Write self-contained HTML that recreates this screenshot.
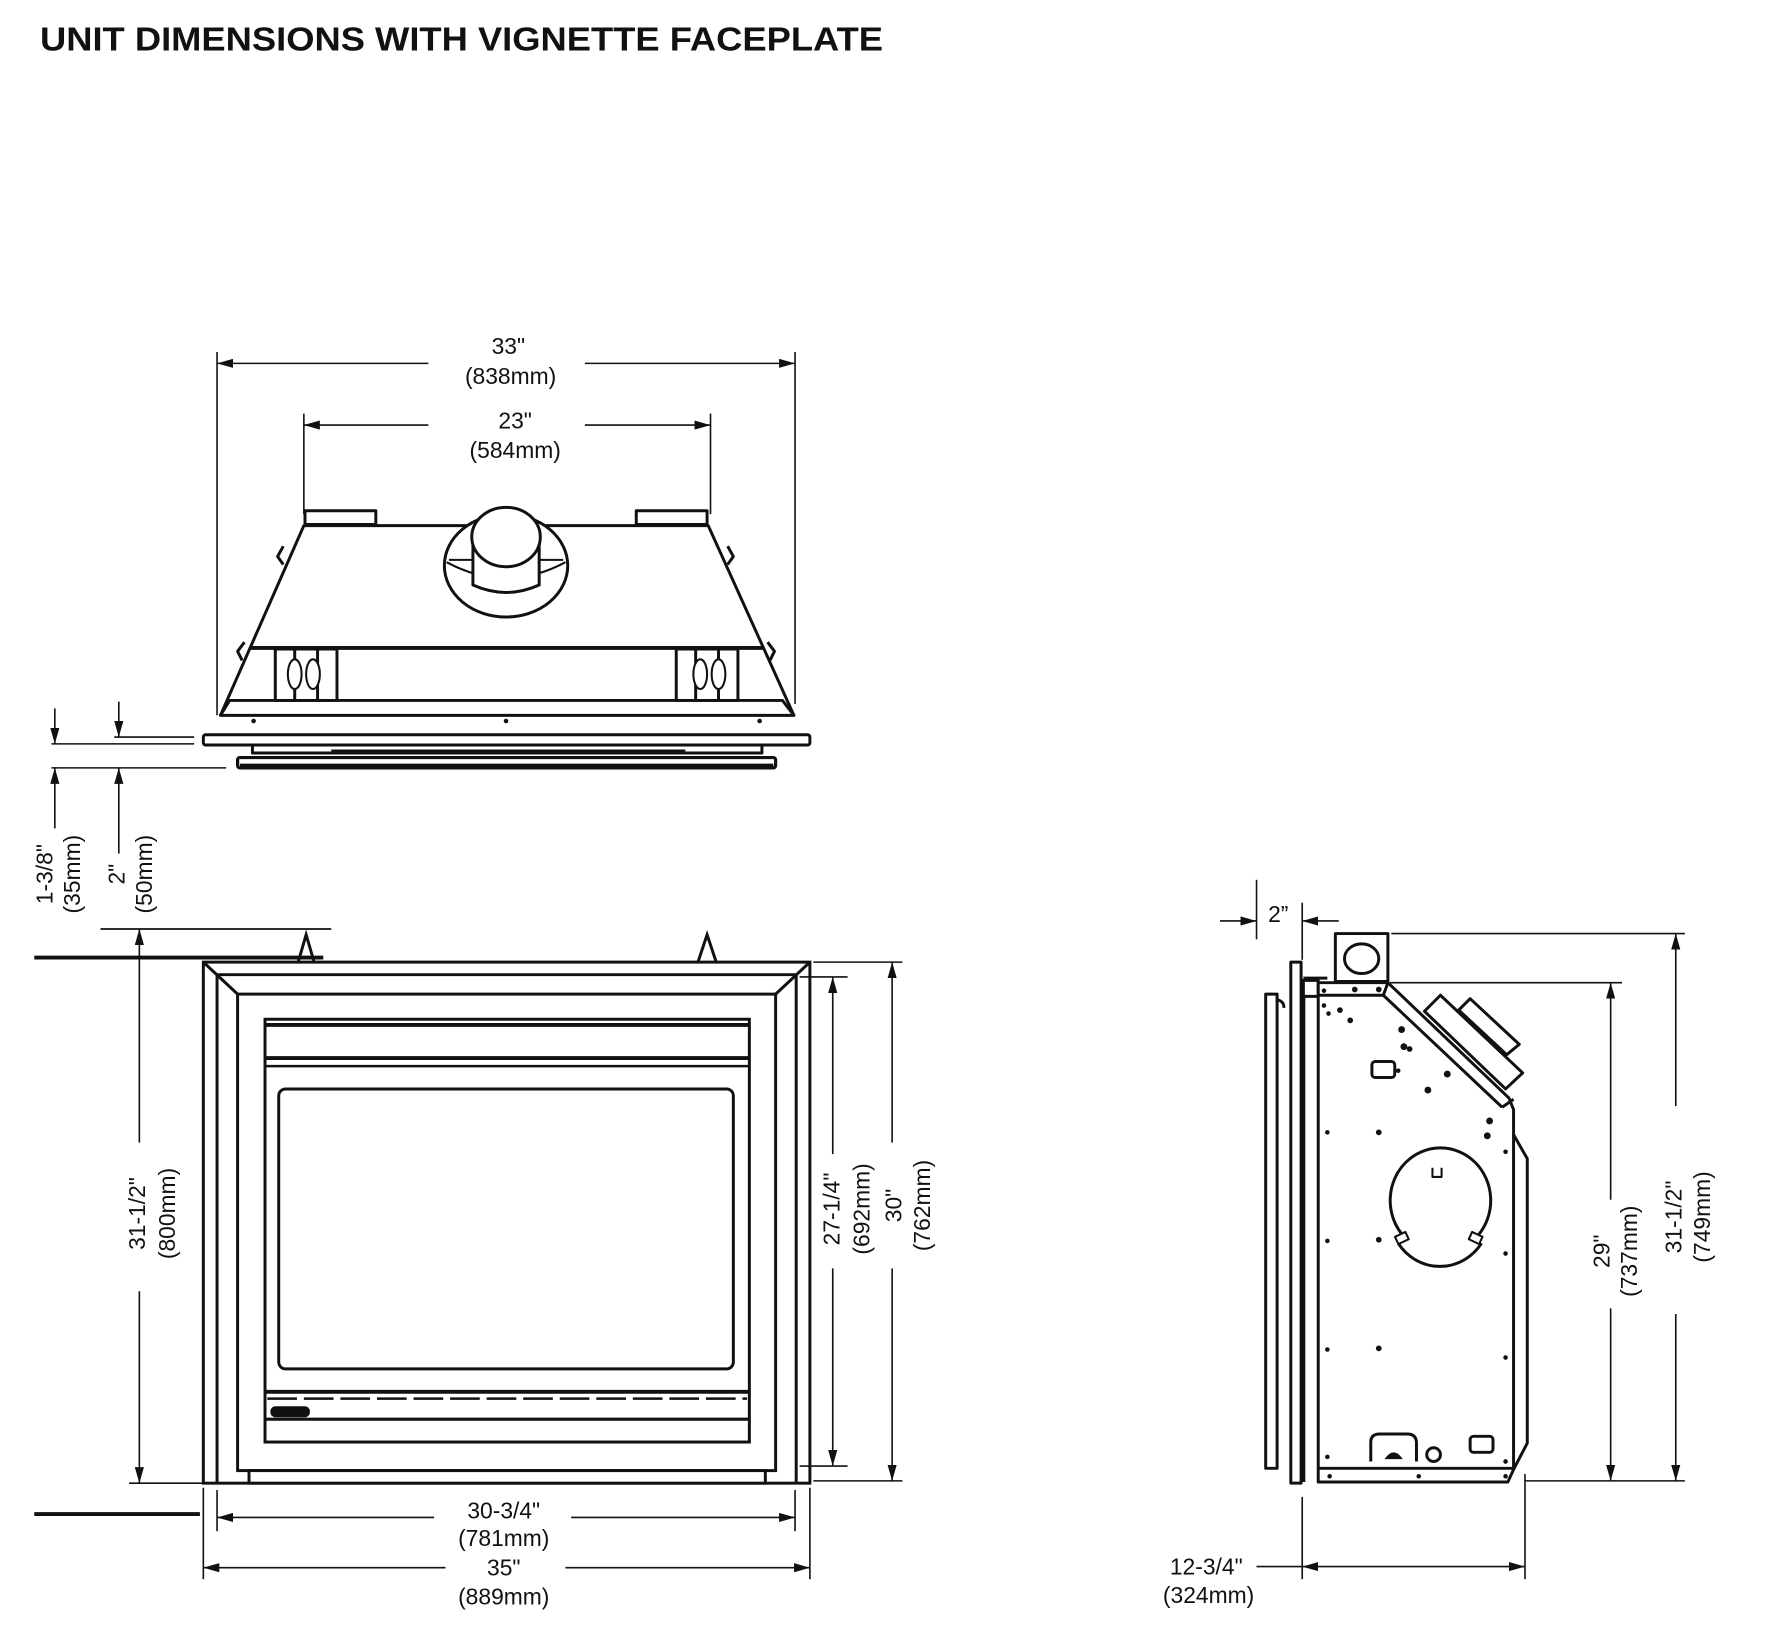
<!DOCTYPE html>
<html><head><meta charset="utf-8"><style>
html,body{margin:0;padding:0;background:#fff;}
svg{display:block}
text{font-family:"Liberation Sans",Arial,sans-serif;fill:#111}
</style></head><body>
<svg width="1782" height="1634" viewBox="0 0 1560 1430" preserveAspectRatio="none" xmlns="http://www.w3.org/2000/svg">
<defs>
<marker id="a" viewBox="0 0 14 8" refX="14" refY="4" markerWidth="14" markerHeight="8" markerUnits="userSpaceOnUse" orient="auto"><path d="M0,0 L14,4 L0,8z" fill="#111"/></marker>
</defs>
<rect width="1560" height="1430" fill="#fff"/>
<text x="35" y="44" font-size="29" font-weight="bold" textLength="738" lengthAdjust="spacingAndGlyphs">UNIT DIMENSIONS WITH VIGNETTE FACEPLATE</text>

<g stroke="#111" fill="none" stroke-width="1.4">
<line x1="190" y1="308" x2="190" y2="626"/>
<line x1="696" y1="308" x2="696" y2="616"/>
<line x1="375" y1="318" x2="190" y2="318" marker-end="url(#a)"/>
<line x1="512" y1="318" x2="696" y2="318" marker-end="url(#a)"/>
<line x1="266" y1="362" x2="266" y2="450"/>
<line x1="622" y1="362" x2="622" y2="450"/>
<line x1="375" y1="372" x2="266" y2="372" marker-end="url(#a)"/>
<line x1="512" y1="372" x2="622" y2="372" marker-end="url(#a)"/>
</g>
<g font-size="20" text-anchor="middle">
<text x="445" y="310">33"</text><text x="447" y="336">(838mm)</text>
<text x="451" y="375">23"</text><text x="451" y="401">(584mm)</text>
</g>

<g stroke="#111" fill="#fff" stroke-width="2.6" stroke-linejoin="round">
<rect x="267" y="447" width="62" height="12"/>
<rect x="557" y="447" width="62" height="12"/>
<path d="M266,460 L620,460 L695,626 L193,626 Z"/>
<line x1="219" y1="567" x2="668" y2="567" stroke-width="3.4"/>
<path d="M248,478 L243,487 L248,494" fill="none"/>
<path d="M214,562 L208,570 L212,578" fill="none"/>
<path d="M637,478 L642,487 L637,494" fill="none"/>
<path d="M672,562 L678,570 L674,578" fill="none"/>
<ellipse cx="443" cy="495" rx="54" ry="45"/>
<path d="M391,492 Q443,520 495,492" fill="none" stroke-width="1.8"/>
<line x1="393" y1="490" x2="493" y2="490" stroke-width="1.8"/>
<path d="M414,470 L414,512 Q443,525 472,512 L472,470" />
<ellipse cx="443" cy="470" rx="30" ry="26"/>
<path d="M201,613 L685,613 L695,626 L193,626 Z"/>
<rect x="241" y="568" width="54" height="45"/>
<line x1="258" y1="568" x2="258" y2="613"/><line x1="278" y1="568" x2="278" y2="613"/>
<ellipse cx="258" cy="590" rx="6" ry="13" stroke-width="1.8"/><ellipse cx="274" cy="590" rx="6" ry="13" stroke-width="1.8"/>
<rect x="592" y="568" width="54" height="45"/>
<line x1="609" y1="568" x2="609" y2="613"/><line x1="629" y1="568" x2="629" y2="613"/>
<ellipse cx="613" cy="590" rx="6" ry="13" stroke-width="1.8"/><ellipse cx="629" cy="590" rx="6" ry="13" stroke-width="1.8"/>
<rect x="178" y="643" width="531" height="9" rx="2"/>
<rect x="221" y="652" width="446" height="7"/>
<line x1="290" y1="657" x2="600" y2="657" stroke-width="2.2"/>
<rect x="208" y="663" width="471" height="9" rx="2" stroke-width="2.8"/>
<line x1="210" y1="670" x2="677" y2="670" stroke-width="3.4"/>
</g>
<g fill="#111"><circle cx="222" cy="631" r="2"/><circle cx="443" cy="631" r="2"/><circle cx="665" cy="631" r="2"/></g>

<g stroke="#111" fill="none" stroke-width="1.4">
<line x1="45" y1="651" x2="170" y2="651"/>
<line x1="100" y1="645" x2="170" y2="645"/>
<line x1="45" y1="672" x2="198" y2="672"/>
<line x1="48" y1="620" x2="48" y2="651" marker-end="url(#a)"/>
<line x1="104" y1="614" x2="104" y2="645" marker-end="url(#a)"/>
<line x1="48" y1="725" x2="48" y2="672" marker-end="url(#a)"/>
<line x1="104" y1="747" x2="104" y2="672" marker-end="url(#a)"/>
</g>
<g font-size="20" text-anchor="middle">
<text transform="translate(46,765) rotate(-90)">1-3/8"</text>
<text transform="translate(70,765) rotate(-90)">(35mm)</text>
<text transform="translate(109,765) rotate(-90)">2"</text>
<text transform="translate(133,765) rotate(-90)">(50mm)</text>
</g>

<g stroke="#111" fill="#fff" stroke-width="2.6">
<line x1="88" y1="813" x2="290" y2="813" stroke-width="1.6"/>
<path d="M261,842 L268,818 L275,842" fill="none"/>
<path d="M611,842 L619,818 L627,842" fill="none"/>
<line x1="30" y1="838" x2="283" y2="838" stroke-width="3.4"/>
<rect x="178" y="842" width="531" height="456"/>
<line x1="190" y1="853" x2="190" y2="1298"/>
<line x1="697" y1="853" x2="697" y2="1298"/>
<line x1="190" y1="853" x2="697" y2="853"/>
<line x1="178" y1="842" x2="208" y2="870"/>
<line x1="709" y1="842" x2="679" y2="870"/>
<rect x="208" y="870" width="471" height="417"/>
<rect x="218" y="1287" width="452" height="11"/>
<rect x="232" y="892" width="424" height="370"/>
<line x1="232" y1="897" x2="656" y2="897" stroke-width="3.4"/>
<line x1="232" y1="926" x2="656" y2="926" stroke-width="3.4"/>
<line x1="232" y1="933" x2="656" y2="933" stroke-width="2.2"/>
<rect x="244" y="953" width="398" height="245" rx="6"/>
<line x1="232" y1="1218" x2="656" y2="1218" stroke-width="3.4"/>
<line x1="234" y1="1224" x2="654" y2="1224" stroke-width="2.2" stroke-dasharray="26,6"/>
<line x1="232" y1="1242" x2="656" y2="1242" stroke-width="2.8"/>
<rect x="238" y="1232" width="32" height="7" rx="3" fill="#111"/>
<line x1="30" y1="1325" x2="175" y2="1325" stroke-width="3.4"/>
</g>
<g stroke="#111" fill="none" stroke-width="1.4">
<line x1="113" y1="1298" x2="178" y2="1298"/>
<line x1="122" y1="1000" x2="122" y2="813" marker-end="url(#a)"/>
<line x1="122" y1="1130" x2="122" y2="1298" marker-end="url(#a)"/>
<line x1="700" y1="855" x2="742" y2="855"/>
<line x1="700" y1="1283" x2="742" y2="1283"/>
<line x1="729" y1="1010" x2="729" y2="855" marker-end="url(#a)"/>
<line x1="729" y1="1110" x2="729" y2="1283" marker-end="url(#a)"/>
<line x1="712" y1="842" x2="790" y2="842"/>
<line x1="712" y1="1296" x2="790" y2="1296"/>
<line x1="781" y1="1000" x2="781" y2="842" marker-end="url(#a)"/>
<line x1="781" y1="1110" x2="781" y2="1296" marker-end="url(#a)"/>
<line x1="178" y1="1302" x2="178" y2="1382"/>
<line x1="709" y1="1302" x2="709" y2="1382"/>
<line x1="190" y1="1304" x2="190" y2="1340"/>
<line x1="696" y1="1304" x2="696" y2="1340"/>
<line x1="380" y1="1328" x2="190" y2="1328" marker-end="url(#a)"/>
<line x1="500" y1="1328" x2="696" y2="1328" marker-end="url(#a)"/>
<line x1="390" y1="1372" x2="178" y2="1372" marker-end="url(#a)"/>
<line x1="495" y1="1372" x2="709" y2="1372" marker-end="url(#a)"/>
</g>
<g font-size="20" text-anchor="middle">
<text transform="translate(127,1062) rotate(-90)">31-1/2"</text>
<text transform="translate(153,1062) rotate(-90)">(800mm)</text>
<text transform="translate(735,1058) rotate(-90)">27-1/4"</text>
<text transform="translate(761,1058) rotate(-90)">(692mm)</text>
<text transform="translate(789,1055) rotate(-90)">30"</text>
<text transform="translate(814,1055) rotate(-90)">(762mm)</text>
<text x="441" y="1329">30-3/4"</text><text x="441" y="1353">(781mm)</text>
<text x="441" y="1379">35"</text><text x="441" y="1404">(889mm)</text>
</g>

<g stroke="#111" fill="#fff" stroke-width="2.6" stroke-linejoin="round">
<rect x="1169" y="817" width="46" height="42"/>
<ellipse cx="1192" cy="839" rx="15" ry="13"/>
<rect x="1130" y="842" width="9" height="456"/>
<path d="M1108,870 L1108,1285 L1118,1285 L1118,870 Z"/>
<path d="M1118,875 Q1124,876 1124,882"/>
<line x1="1141" y1="860" x2="1141" y2="1297" stroke-width="3.4"/>
<rect x="1141" y="858" width="13" height="14"/>
<line x1="1141" y1="856" x2="1162" y2="856"/>
<path d="M1154,860 L1215,860 L1321,961 L1325,971 L1325,1286 L1320,1297 L1154,1297 Z"/>
<path d="M1154,871 L1211,871 L1215,860" fill="none"/>
<line x1="1211" y1="871" x2="1315" y2="969"/>
<line x1="1315" y1="969" x2="1325" y2="962"/>
<path d="M1325,993 L1337,1014 L1337,1263 L1325,1286" fill="none"/>
<line x1="1154" y1="1285" x2="1325" y2="1285"/>
<path d="M1247,885 L1261,871 L1333,939 L1318,953 Z"/>
<path d="M1277,884 L1287,874 L1330,914 L1319,923 Z"/>
<path d="M1228,1081 A44,46 0 1,1 1294,1081" fill="none"/>
<path d="M1224,1088 A44,46 0 0,0 1297,1088" fill="none"/>
<path d="M1254,1022 L1254,1030 L1262,1030 L1262,1022" fill="none" stroke-width="1.8"/>
<rect x="1222" y="1080" width="10" height="7" transform="rotate(-25 1227 1083)" stroke-width="1.8"/>
<rect x="1287" y="1080" width="10" height="7" transform="rotate(25 1292 1083)" stroke-width="1.8"/>
<rect x="1201" y="929" width="20" height="14" rx="3"/>
<rect x="1287" y="1257" width="20" height="14" rx="3"/>
<path d="M1200,1279 L1200,1262 Q1200,1255 1208,1255 L1232,1255 Q1240,1255 1240,1263 L1240,1279" fill="none"/>
<ellipse cx="1255" cy="1273" rx="6" ry="6"/>
</g>
<g fill="#111">
<path d="M1212,1277 Q1220,1265 1228,1277 Z"/>
<circle cx="1159" cy="867" r="2"/><circle cx="1186" cy="866" r="2.5"/><circle cx="1207" cy="866" r="2.5"/>
<circle cx="1159" cy="880" r="2"/><circle cx="1163" cy="887" r="2"/><circle cx="1173" cy="884" r="2.5"/><circle cx="1182" cy="893" r="2.5"/>
<circle cx="1227" cy="901" r="3"/><circle cx="1229" cy="916" r="3"/><circle cx="1234" cy="918" r="2.5"/>
<circle cx="1267" cy="940" r="3"/><circle cx="1250" cy="954" r="3"/><circle cx="1224" cy="937" r="2"/>
<circle cx="1304" cy="981" r="3"/><circle cx="1302" cy="994" r="3"/>
<circle cx="1162" cy="991" r="2"/><circle cx="1207" cy="991" r="2.5"/><circle cx="1162" cy="1086" r="2"/><circle cx="1207" cy="1085" r="2.5"/>
<circle cx="1162" cy="1181" r="2"/><circle cx="1207" cy="1180" r="2.5"/><circle cx="1318" cy="1008" r="2"/><circle cx="1318" cy="1097" r="2"/><circle cx="1318" cy="1188" r="2"/><circle cx="1318" cy="1279" r="2"/><circle cx="1162" cy="1275" r="2"/>
<circle cx="1164" cy="1292" r="2"/><circle cx="1242" cy="1292" r="2"/><circle cx="1318" cy="1292" r="2"/>
</g>
<g stroke="#111" fill="none" stroke-width="1.4">
<line x1="1100" y1="770" x2="1100" y2="822"/>
<line x1="1140" y1="790" x2="1140" y2="840"/>
<line x1="1068" y1="806" x2="1100" y2="806" marker-end="url(#a)"/>
<line x1="1172" y1="806" x2="1140" y2="806" marker-end="url(#a)"/>
<line x1="1218" y1="817" x2="1475" y2="817"/>
<line x1="1217" y1="860" x2="1420" y2="860"/>
<line x1="1335" y1="1296" x2="1475" y2="1296"/>
<line x1="1410" y1="1050" x2="1410" y2="860" marker-end="url(#a)"/>
<line x1="1410" y1="1145" x2="1410" y2="1296" marker-end="url(#a)"/>
<line x1="1467" y1="968" x2="1467" y2="817" marker-end="url(#a)"/>
<line x1="1467" y1="1150" x2="1467" y2="1296" marker-end="url(#a)"/>
<line x1="1140" y1="1310" x2="1140" y2="1382"/>
<line x1="1335" y1="1290" x2="1335" y2="1382"/>
<line x1="1100" y1="1371" x2="1140" y2="1371"/>
<line x1="1230" y1="1371" x2="1140" y2="1371" marker-end="url(#a)"/>
<line x1="1230" y1="1371" x2="1335" y2="1371" marker-end="url(#a)"/>
</g>
<g font-size="20" text-anchor="middle">
<text x="1119" y="807">2”</text>
<text transform="translate(1409,1095) rotate(-90)">29"</text>
<text transform="translate(1433,1095) rotate(-90)">(737mm)</text>
<text transform="translate(1472,1065) rotate(-90)">31-1/2"</text>
<text transform="translate(1497,1065) rotate(-90)">(749mm)</text>
<text x="1056" y="1378">12-3/4"</text>
<text x="1058" y="1403">(324mm)</text>
</g>
</svg>
</body></html>
